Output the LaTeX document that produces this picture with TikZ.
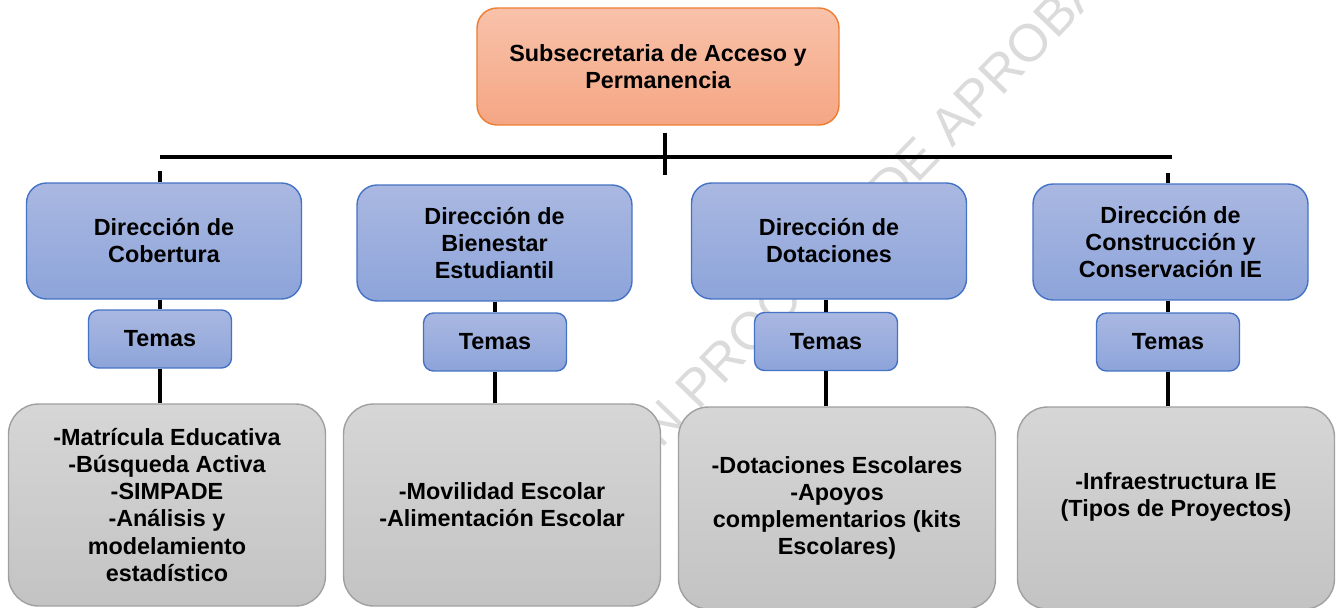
\documentclass[tikz,border=0pt]{standalone}
\usepackage{fontspec}
\setmainfont{Liberation Sans}
\usepackage{tikz}
\usetikzlibrary{positioning,calc}
\pgfdeclarelayer{bg}
\pgfsetlayers{bg,main}
\definecolor{titletop}{RGB}{248,194,170}
\definecolor{titlebot}{RGB}{245,166,132}
\definecolor{titleline}{RGB}{237,125,49}
\definecolor{bluetop}{RGB}{170,184,225}
\definecolor{bluebot}{RGB}{141,164,218}
\definecolor{blueline}{RGB}{68,114,196}
\definecolor{graytop}{RGB}{214,214,214}
\definecolor{graybot}{RGB}{195,195,195}
\definecolor{grayline}{RGB}{160,160,160}
\definecolor{wmgray}{RGB}{219,219,219}

\tikzset{
  box/.style={draw, line width=0.8pt, align=center, inner sep=2pt,
    font=\bfseries\fontsize{13.3}{15.4}\selectfont},
  headbox/.style={box, draw=titleline, top color=titletop, bottom color=titlebot,
    rounded corners=0.4cm, minimum width=7.24cm, minimum height=2.34cm},
  dirbox/.style={box, draw=blueline, top color=bluetop, bottom color=bluebot,
    rounded corners=0.4cm, minimum width=5.5cm, minimum height=2.32cm},
  temabox/.style={box, draw=blueline, top color=bluetop, bottom color=bluebot,
    rounded corners=0.2cm, minimum width=2.86cm, minimum height=1.16cm},
  listbox/.style={box, draw=grayline, top color=graytop, bottom color=graybot,
    rounded corners=0.6cm, minimum width=6.34cm, minimum height=4.04cm},
  link/.style={line width=0.08cm},
  watermark/.style={text=wmgray, inner sep=0pt, font=\fontsize{30}{30}\selectfont}
}

\begin{document}
\begin{tikzpicture}[x=0.02cm,y=-0.02cm]
    \useasboundingbox (0,0) rectangle (1338,608);

    \begin{pgfonlayer}{bg}    % watermark behind the boxes
        \node [watermark, anchor=base west, rotate=46] (wm) at (637,475) {EN PROCESO DE APROBACIÓN};
    \end{pgfonlayer}

    \node [headbox] (sub) at (658,66.5) {Subsecretaria de Acceso y\\Permanencia};

    \node [dirbox] (cob) at (164,241) {Dirección de\\Cobertura};
    \node [dirbox] (bien) at (494.5,243) {Dirección de\\Bienestar\\Estudiantil};
    \node [dirbox] (dot) at (829,241) {Dirección de\\Dotaciones};
    \node [dirbox] (cons) at (1170.5,242) {Dirección de\\Construcción y\\Conservación IE};

    \node [temabox] (tcob) at (160,339) {Temas};
    \node [temabox] (tbien) at (495,342) {Temas};
    \node [temabox] (tdot) at (826,341.5) {Temas};
    \node [temabox] (tcons) at (1168,342) {Temas};

    \node [listbox] (lcob) at (167,505) {-Matrícula Educativa\\-Búsqueda Activa\\-SIMPADE\\-Análisis y\\modelamiento\\estadístico};
    \node [listbox] (lbien) at (502,505) {-Movilidad Escolar\\-Alimentación Escolar};
    \node [listbox] (ldot) at (837,508) {-Dotaciones Escolares\\-Apoyos\\complementarios (kits\\Escolares)};
    \node [listbox] (lcons) at (1176,508) {-Infraestructura IE\\(Tipos de Proyectos)\\~};

    \coordinate (barl) at (160,157);
    \coordinate (barr) at (1172,157);
    \coordinate (ticktop) at (665,133);
    \coordinate (tickbot) at (665,175);
    \coordinate (stubl) at (160,171);
    \coordinate (stubr) at (1168,173);

    \draw [link] (barl) -- (barr);
    \draw [link] (ticktop) -- (tickbot);
    \draw [link] (stubl) -- (stubl |- cob.north);
    \draw [link] (stubr) -- (stubr |- cons.north);

    \draw [link] (tcob.north |- cob.south) -- (tcob.north);
    \draw [link] (tbien.north |- bien.south) -- (tbien.north);
    \draw [link] (tdot.north |- dot.south) -- (tdot.north);
    \draw [link] (tcons.north |- cons.south) -- (tcons.north);

    \draw [link] (tcob.south) -- (tcob.south |- lcob.north);
    \draw [link] (tbien.south) -- (tbien.south |- lbien.north);
    \draw [link] (tdot.south) -- (tdot.south |- ldot.north);
    \draw [link] (tcons.south) -- (tcons.south |- lcons.north);
  \end{tikzpicture}
\end{document}
